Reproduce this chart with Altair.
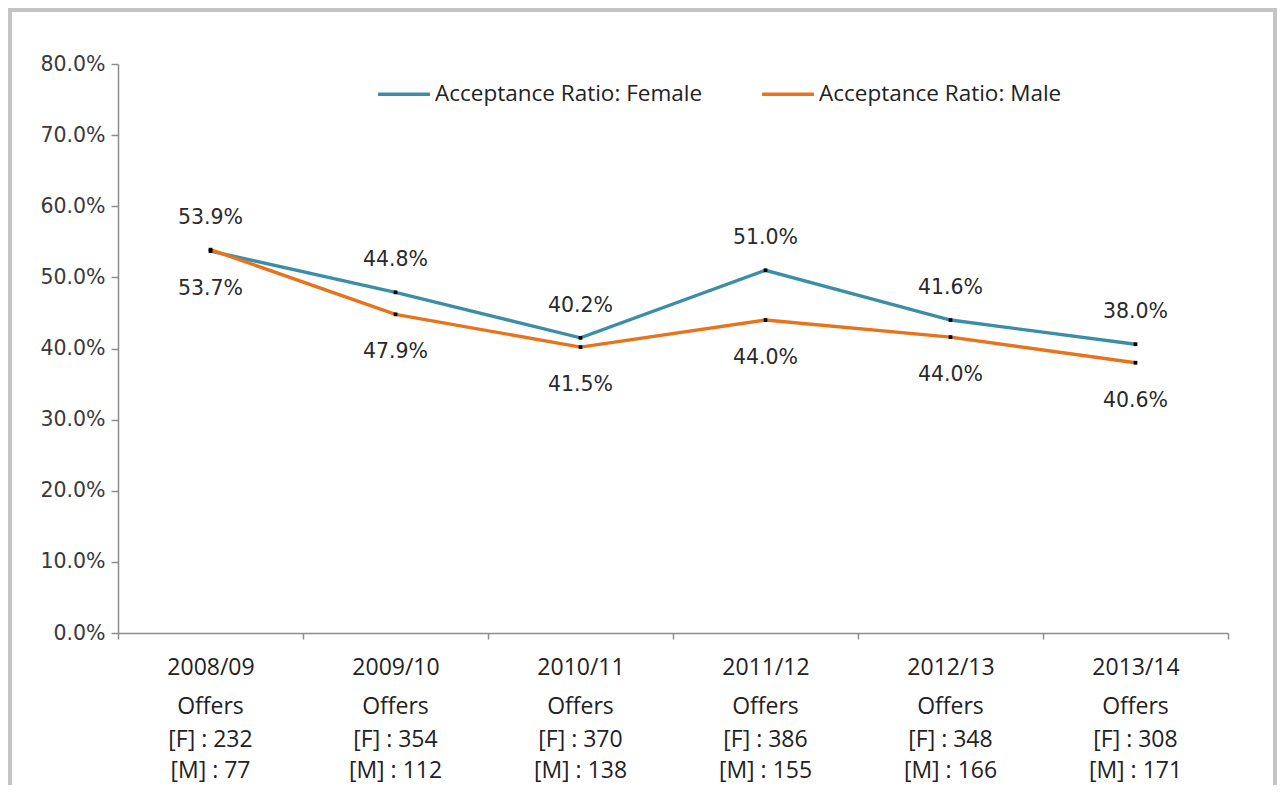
import altair as alt
import pandas as pd

categories = ["2008/09", "2009/10", "2010/11", "2011/12", "2012/13", "2013/14"]
female = [53.7, 47.9, 41.5, 51.0, 44.0, 40.6]
male = [53.9, 44.8, 40.2, 44.0, 41.6, 38.0]
upper_labels = [53.9, 44.8, 40.2, 51.0, 41.6, 38.0]
lower_labels = [53.7, 47.9, 41.5, 44.0, 44.0, 40.6]
offers_f = [232, 354, 370, 386, 348, 308]
offers_m = [77, 112, 138, 155, 166, 171]

F_NAME = "Acceptance Ratio: Female"
M_NAME = "Acceptance Ratio: Male"

W, H = 1110, 569

long = pd.DataFrame(
    {
        "cat": categories * 2,
        "series": [F_NAME] * 6 + [M_NAME] * 6,
        "value": [v / 100 for v in female] + [v / 100 for v in male],
    }
)

lab = pd.DataFrame(
    {
        "cat": categories,
        "upper": [max(f, m) / 100 for f, m in zip(female, male)],
        "lower": [min(f, m) / 100 for f, m in zip(female, male)],
        "upper_txt": [f"{v:.1f}%" for v in upper_labels],
        "lower_txt": [f"{v:.1f}%" for v in lower_labels],
        "offers": ["Offers"] * 6,
        "ftxt": [f"[F] : {v}" for v in offers_f],
        "mtxt": [f"[M] : {v}" for v in offers_m],
    }
)

xscale = alt.Scale(domain=categories, paddingInner=0, paddingOuter=0)
yscale = alt.Scale(domain=[0, 0.8])

x_enc = alt.X(
    "cat:N",
    scale=xscale,
    sort=categories,
    title=None,
    axis=alt.Axis(
        labelAngle=0,
        tickBand="extent",
        labelFont="Open Sans",
        labelFontSize=23,
        labelColor="#222222",
        labelPadding=17,
        domainColor="#8c8c8c",
        tickColor="#8c8c8c",
        tickSize=6,
        domainWidth=1.5,
        tickWidth=1.5,
        grid=False,
    ),
)

y_enc = alt.Y(
    "value:Q",
    scale=yscale,
    title=None,
    axis=alt.Axis(
        format=".1%",
        values=[i / 10 for i in range(9)],
        labelFont="DejaVu Sans",
        labelFontSize=20.5,
        labelColor="#3a3a3a",
        labelPadding=6,
        domainColor="#8c8c8c",
        tickColor="#8c8c8c",
        tickSize=7,
        domainWidth=1.5,
        tickWidth=1.5,
        grid=False,
    ),
)

lines = alt.Chart(long).mark_line(strokeWidth=3.4).encode(
    x=x_enc,
    y=y_enc,
    color=alt.Color(
        "series:N",
        scale=alt.Scale(domain=[F_NAME, M_NAME], range=["#3b8ea6", "#e8731c"]),
        legend=alt.Legend(
            title=None,
            orient="none",
            legendX=258,
            legendY=2,
            direction="horizontal",
            symbolType="stroke",
            symbolSize=2700,
            symbolStrokeWidth=3.4,
            labelFont="Open Sans",
            labelFontSize=22.5,
            labelColor="#222222",
            labelOffset=3,
            labelLimit=0,
            columnPadding=52,
        ),
    ),
)

points = alt.Chart(long).mark_point(
    shape="square", size=14, filled=True, color="black", opacity=1
).encode(x=alt.X("cat:N", scale=xscale, sort=categories), y=alt.Y("value:Q", scale=yscale))

text_style = dict(font="DejaVu Sans", fontSize=20.5, color="#2a2a2a", baseline="middle", align="center")

upper_t = alt.Chart(lab).mark_text(dy=-32, **text_style).encode(
    x=alt.X("cat:N", scale=xscale, sort=categories),
    y=alt.Y("upper:Q", scale=yscale),
    text="upper_txt:N",
)
lower_t = alt.Chart(lab).mark_text(dy=38, **text_style).encode(
    x=alt.X("cat:N", scale=xscale, sort=categories),
    y=alt.Y("lower:Q", scale=yscale),
    text="lower_txt:N",
)

sub_style = dict(font="Open Sans", color="#222222", baseline="middle", align="center")
offers_t = alt.Chart(lab).mark_text(fontSize=23, **sub_style).encode(
    x=alt.X("cat:N", scale=xscale, sort=categories), y=alt.value(H + 74), text="offers:N"
)
f_t = alt.Chart(lab).mark_text(fontSize=23, **sub_style).encode(
    x=alt.X("cat:N", scale=xscale, sort=categories), y=alt.value(H + 107), text="ftxt:N"
)
m_t = alt.Chart(lab).mark_text(fontSize=23, **sub_style).encode(
    x=alt.X("cat:N", scale=xscale, sort=categories), y=alt.value(H + 138), text="mtxt:N"
)

frame = alt.Chart(pd.DataFrame({"a": [0]})).mark_rect(
    fill=None, stroke="#c4c4c4", strokeWidth=4
).encode(
    x=alt.value(-108), x2=alt.value(W + 47), y=alt.value(-54), y2=alt.value(H + 180)
)

chart = (
    alt.layer(frame, lines, points, upper_t, lower_t, offers_t, f_t, m_t)
    .properties(
        width=W,
        height=H,
        autosize=alt.AutoSizeParams(type="none"),
        padding={"left": 110, "top": 56, "right": 49, "bottom": 152},
        background="white",
    )
    .configure_view(stroke=None)
)

chart.save("out.html", embed_options={"renderer": "svg", "actions": False})
